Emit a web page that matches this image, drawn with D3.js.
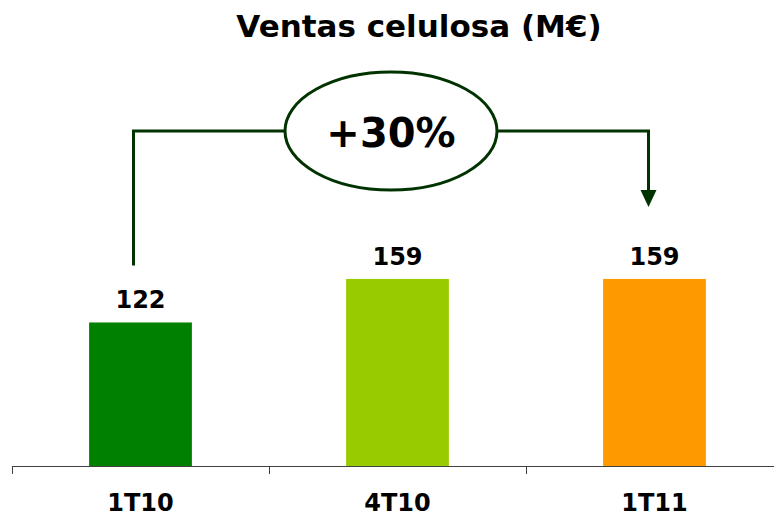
<!DOCTYPE html>
<html>
<head>
<meta charset="utf-8">
<script src="https://cdn.jsdelivr.net/npm/d3@7"></script>
<style>
  html, body { margin: 0; padding: 0; background: #fff; }
  svg { display: block; font-family: Verdana, "DejaVu Sans", sans-serif; }
</style>
</head>
<body>
<svg id="chart" width="774" height="517"></svg>
<script>
const categories = ['1T10', '4T10', '1T11']
const values = [122, 159, 159]
const barColors = ['#008000', '#99cc00', '#ff9900']
const title = 'Ventas celulosa (M€)'
const growthLabel = '+30%'

const width = 774
const height = 517
const svg = d3.select('#chart')

// escalas
const x = d3.scaleBand()
  .domain(categories)
  .range([12, 783])
  .paddingInner(0.6)
  .paddingOuter(0.3)

const y = d3.scaleLinear()
  .domain([0, 340])
  .range([466, 66])

const step = x.step()
const left = 12

// titulo
svg.append('text')
  .attr('x', 419)
  .attr('y', 37)
  .attr('text-anchor', 'middle')
  .style('font-size', '31px')
  .style('font-weight', 'bold')
  .text(title)

// barras
svg.selectAll('.bar')
  .data(values)
  .enter()
  .append('rect')
  .attr('class', 'bar')
  .attr('x', (d, i) => x(categories[i]))
  .attr('y', d => y(d))
  .attr('width', x.bandwidth())
  .attr('height', d => y(0) - y(d))
  .style('fill', (d, i) => barColors[i])

// etiquetas de valor
svg.selectAll('.value')
  .data(values)
  .enter()
  .append('text')
  .attr('class', 'value')
  .attr('x', (d, i) => x(categories[i]) + x.bandwidth() / 2)
  .attr('y', d => y(d) - 14)
  .attr('text-anchor', 'middle')
  .style('font-size', '24px')
  .style('font-weight', 'bold')
  .text(d => d)

// eje
const axis = svg.append('g').attr('class', 'axis')
axis.append('line')
  .attr('x1', left)
  .attr('x2', width)
  .attr('y1', y(0) + 0.5)
  .attr('y2', y(0) + 0.5)
  .style('stroke', '#404040')
  .style('stroke-width', 1)

axis.selectAll('.tick')
  .data(d3.range(categories.length + 1))
  .enter()
  .append('line')
  .attr('class', 'tick')
  .attr('x1', i => left + i * step + 0.5)
  .attr('x2', i => left + i * step + 0.5)
  .attr('y1', y(0))
  .attr('y2', y(0) + 8)
  .style('stroke', '#404040')
  .style('stroke-width', 1)

axis.selectAll('.cat')
  .data(categories)
  .enter()
  .append('text')
  .attr('class', 'cat')
  .attr('x', d => x(d) + x.bandwidth() / 2)
  .attr('y', 511)
  .attr('text-anchor', 'middle')
  .style('font-size', '24px')
  .style('font-weight', 'bold')
  .text(d => d)

// flecha de crecimiento
const lineColor = '#003300'
const x1 = x(categories[0]) + x.bandwidth() / 2 - 7
const x2 = x(categories[2]) + x.bandwidth() / 2 - 6
const yTop = 131
const cx = (x1 + x2) / 2

svg.append('path')
  .attr('d', `M${x1},${y(values[0]) - 57}V${yTop}H${x2}V${192}`)
  .style('fill', 'none')
  .style('stroke', lineColor)
  .style('stroke-width', 3)

svg.append('path')
  .attr('d', `M${x2 - 8},${190}L${x2 + 8},${190}L${x2},${207}Z`)
  .style('fill', lineColor)

svg.append('ellipse')
  .attr('cx', cx)
  .attr('cy', yTop)
  .attr('rx', 106)
  .attr('ry', 59)
  .style('fill', '#fff')
  .style('stroke', lineColor)
  .style('stroke-width', 3)

svg.append('text')
  .attr('x', cx)
  .attr('y', 147)
  .attr('text-anchor', 'middle')
  .style('font-size', '40px')
  .style('font-weight', 'bold')
  .text(growthLabel)
</script>
</body>
</html>
